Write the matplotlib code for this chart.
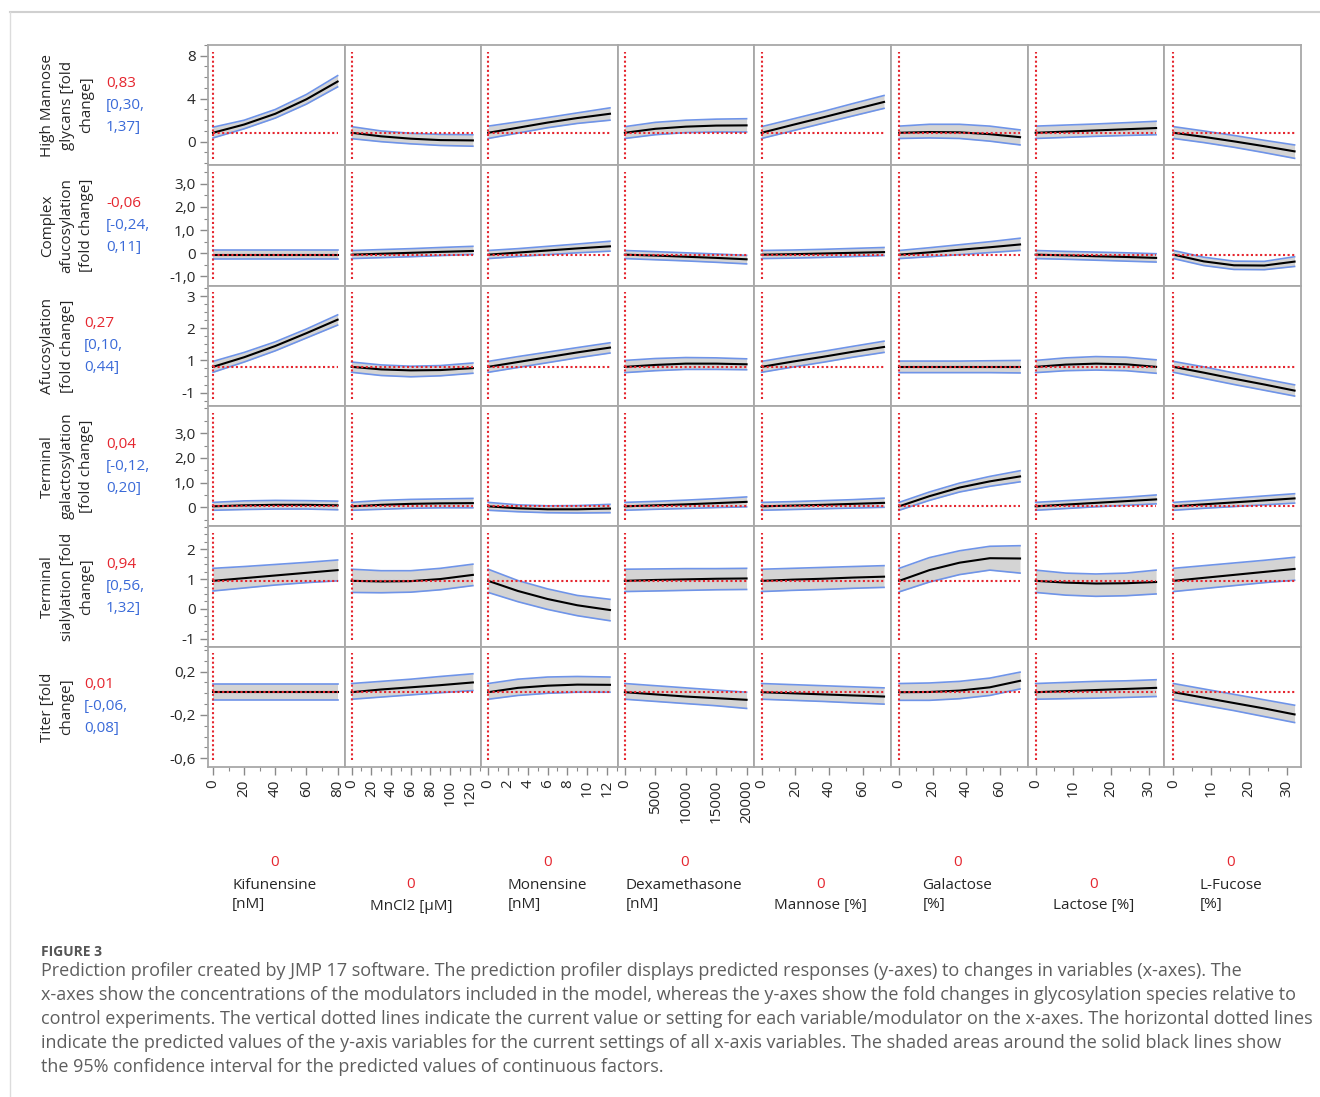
import matplotlib.pyplot as plt
from matplotlib.lines import Line2D
from matplotlib.ticker import MultipleLocator

plt.rcParams["font.family"] = ["Open Sans", "DejaVu Sans"]

# ---- factors (x-axes) ----
FACTORS = ["Kifunensine\n[nM]", "MnCl2 [µM]", "Monensine\n[nM]", "Dexamethasone\n[nM]",
           "Mannose [%]", "Galactose\n[%]", "Lactose [%]", "L-Fucose\n[%]"]
SETTINGS = [0, 0, 0, 0, 0, 0, 0, 0]

X_KIF = [0, 20, 40, 60, 80]
X_MNCL2 = [0, 30, 60, 90, 123]
X_MON = [0, 3, 6, 9, 12.3]
X_DEX = [0, 5000, 10000, 15000, 20000]
X_MAN = [0, 18, 36, 54, 72.4]
X_GAL = [0, 18, 36, 54, 72]
X_LAC = [0, 8, 16, 24, 32]
X_FUC = [0, 8, 16, 24, 32]
X_GRID = [X_KIF, X_MNCL2, X_MON, X_DEX, X_MAN, X_GAL, X_LAC, X_FUC]

XTICKS = [[0, 20, 40, 60, 80], [0, 20, 40, 60, 80, 100, 120], [0, 2, 4, 6, 8, 10, 12],
          [0, 5000, 10000, 15000, 20000], [0, 20, 40, 60], [0, 20, 40, 60],
          [0, 10, 20, 30], [0, 10, 20, 30]]

# ---- responses (y-axes) ----
RESPONSES = ["High Mannose\nglycans [fold\nchange]", "Complex\nafucosylation\n[fold change]",
             "Afucosylation\n[fold change]", "Terminal\ngalactosylation\n[fold change]",
             "Terminal\nsialylation [fold\nchange]", "Titer [fold\nchange]"]
PRED_TEXT = ["0,83", "-0,06", "0,27", "0,04", "0,94", "0,01"]
CI_TEXT = [["[0,30,", "1,37]"], ["[-0,24,", "0,11]"], ["[0,10,", "0,44]"],
           ["[-0,12,", "0,20]"], ["[0,56,", "1,32]"], ["[-0,06,", "0,08]"]]

YTICKS = [[0, 4, 8], [-1, 0, 1, 2, 3], [0, 1, 2, 3], [0, 1, 2, 3], [-1, 0, 1, 2], [-0.6, -0.2, 0.2]]
YTICK_LABELS = [["0", "4", "8"], ["-1,0", "0", "1,0", "2,0", "3,0"], ["-1", "1", "2", "3"],
                ["0", "1,0", "2,0", "3,0"], ["-1", "0", "1", "2"], ["-0,6", "-0,2", "0,2"]]

# High mannose glycans
HM_FIT = [[0.83, 1.6, 2.6, 3.95, 5.6], [0.83, 0.5, 0.28, 0.15, 0.12], [0.83, 1.3, 1.78, 2.2, 2.6],
          [0.83, 1.2, 1.4, 1.5, 1.52], [0.83, 1.55, 2.25, 2.97, 3.7], [0.83, 0.9, 0.87, 0.7, 0.42],
          [0.83, 0.94, 1.05, 1.16, 1.27], [0.83, 0.45, 0.03, -0.42, -0.9]]
HM_HI = [[1.35, 2.0, 3.0, 4.4, 6.15], [1.4, 1.0, 0.78, 0.68, 0.65], [1.45, 1.85, 2.25, 2.68, 3.15],
         [1.4, 1.8, 2.0, 2.1, 2.14], [1.4, 2.1, 2.8, 3.55, 4.3], [1.45, 1.62, 1.62, 1.45, 1.1],
         [1.45, 1.55, 1.65, 1.77, 1.9], [1.4, 1.0, 0.58, 0.13, -0.3]]
HM_LO = [[0.35, 1.2, 2.2, 3.5, 5.1], [0.28, 0.0, -0.2, -0.35, -0.42], [0.3, 0.8, 1.3, 1.7, 2.0],
         [0.3, 0.65, 0.85, 0.9, 0.9], [0.3, 1.0, 1.7, 2.4, 3.1], [0.3, 0.35, 0.3, 0.05, -0.3],
         [0.3, 0.4, 0.5, 0.58, 0.65], [0.3, -0.08, -0.52, -1.02, -1.55]]

# Complex afucosylation
CA_FIT = [[-0.06, -0.06, -0.06, -0.06, -0.06], [-0.06, -0.02, 0.02, 0.06, 0.1],
          [-0.06, 0.03, 0.12, 0.21, 0.3], [-0.06, -0.1, -0.15, -0.2, -0.26],
          [-0.06, -0.04, -0.01, 0.02, 0.05], [-0.06, 0.04, 0.15, 0.26, 0.38],
          [-0.06, -0.09, -0.13, -0.16, -0.2], [-0.06, -0.35, -0.52, -0.53, -0.36]]
CA_HI = [[0.12, 0.12, 0.12, 0.12, 0.12], [0.12, 0.16, 0.2, 0.25, 0.3], [0.12, 0.2, 0.3, 0.4, 0.52],
         [0.12, 0.07, 0.02, -0.03, -0.09], [0.12, 0.14, 0.17, 0.21, 0.25], [0.12, 0.24, 0.37, 0.5, 0.65],
         [0.12, 0.08, 0.05, 0.02, -0.02], [0.12, -0.17, -0.34, -0.35, -0.15]]
CA_LO = [[-0.23, -0.23, -0.23, -0.23, -0.23], [-0.23, -0.19, -0.15, -0.1, -0.05],
         [-0.23, -0.14, -0.06, 0.02, 0.09], [-0.23, -0.28, -0.33, -0.39, -0.46],
         [-0.23, -0.21, -0.18, -0.14, -0.1], [-0.23, -0.15, -0.06, 0.03, 0.12],
         [-0.23, -0.26, -0.3, -0.34, -0.38], [-0.23, -0.53, -0.7, -0.71, -0.57]]

# Afucosylation
AF_FIT = [[0.8, 1.1, 1.45, 1.85, 2.27], [0.8, 0.72, 0.69, 0.7, 0.76], [0.8, 0.95, 1.1, 1.25, 1.4],
          [0.8, 0.86, 0.9, 0.9, 0.88], [0.8, 0.96, 1.11, 1.27, 1.42], [0.8, 0.8, 0.8, 0.8, 0.8],
          [0.8, 0.87, 0.9, 0.88, 0.8], [0.8, 0.62, 0.43, 0.25, 0.06]]
AF_HI = [[0.97, 1.25, 1.58, 1.98, 2.42], [0.95, 0.86, 0.82, 0.84, 0.92], [0.97, 1.12, 1.26, 1.4, 1.55],
         [1.0, 1.06, 1.09, 1.08, 1.05], [0.97, 1.13, 1.28, 1.44, 1.6], [0.98, 0.98, 0.98, 0.99, 1.0],
         [1.0, 1.08, 1.12, 1.1, 1.02], [0.97, 0.8, 0.61, 0.42, 0.24]]
AF_LO = [[0.63, 0.95, 1.3, 1.7, 2.1], [0.63, 0.53, 0.49, 0.52, 0.6], [0.63, 0.78, 0.93, 1.08, 1.23],
         [0.62, 0.68, 0.72, 0.72, 0.71], [0.63, 0.79, 0.94, 1.1, 1.25], [0.62, 0.62, 0.62, 0.62, 0.61],
         [0.62, 0.68, 0.7, 0.68, 0.6], [0.63, 0.44, 0.25, 0.07, -0.11]]

# Terminal galactosylation
TG_FIT = [[0.04, 0.08, 0.1, 0.1, 0.08], [0.04, 0.1, 0.14, 0.16, 0.17], [0.04, -0.04, -0.08, -0.08, -0.05],
          [0.04, 0.08, 0.12, 0.17, 0.22], [0.04, 0.07, 0.1, 0.14, 0.18], [0.04, 0.45, 0.8, 1.05, 1.25],
          [0.04, 0.11, 0.18, 0.25, 0.32], [0.04, 0.12, 0.2, 0.28, 0.36]]
TG_HI = [[0.2, 0.26, 0.28, 0.27, 0.25], [0.2, 0.28, 0.32, 0.34, 0.36], [0.2, 0.1, 0.06, 0.07, 0.12],
         [0.2, 0.24, 0.29, 0.35, 0.42], [0.2, 0.23, 0.27, 0.31, 0.37], [0.2, 0.62, 0.98, 1.25, 1.48],
         [0.2, 0.27, 0.34, 0.41, 0.5], [0.2, 0.28, 0.37, 0.46, 0.55]]
TG_LO = [[-0.12, -0.09, -0.07, -0.07, -0.1], [-0.12, -0.08, -0.04, -0.02, -0.02],
         [-0.12, -0.18, -0.22, -0.23, -0.22], [-0.12, -0.08, -0.05, -0.01, 0.02],
         [-0.12, -0.09, -0.06, -0.03, 0.0], [-0.12, 0.28, 0.62, 0.85, 1.03],
         [-0.12, -0.05, 0.02, 0.08, 0.14], [-0.12, -0.04, 0.03, 0.1, 0.17]]

# Terminal sialylation
TS_FIT = [[0.94, 1.03, 1.12, 1.21, 1.3], [0.94, 0.92, 0.93, 1.0, 1.14], [0.94, 0.6, 0.33, 0.12, -0.04],
          [0.94, 0.97, 0.99, 1.01, 1.02], [0.94, 0.98, 1.01, 1.05, 1.08], [0.94, 1.3, 1.55, 1.7, 1.69],
          [0.94, 0.88, 0.85, 0.86, 0.9], [0.94, 1.04, 1.14, 1.24, 1.34]]
TS_HI = [[1.36, 1.42, 1.49, 1.56, 1.64], [1.33, 1.28, 1.28, 1.36, 1.5], [1.33, 0.95, 0.67, 0.45, 0.32],
         [1.33, 1.34, 1.35, 1.35, 1.36], [1.33, 1.36, 1.39, 1.42, 1.45], [1.36, 1.72, 1.95, 2.1, 2.12],
         [1.3, 1.2, 1.17, 1.2, 1.3], [1.36, 1.45, 1.54, 1.63, 1.73]]
TS_LO = [[0.6, 0.7, 0.8, 0.88, 0.94], [0.55, 0.54, 0.56, 0.64, 0.78], [0.55, 0.24, -0.02, -0.23, -0.4],
         [0.58, 0.6, 0.62, 0.64, 0.65], [0.58, 0.62, 0.65, 0.69, 0.72], [0.57, 0.9, 1.15, 1.3, 1.2],
         [0.55, 0.46, 0.42, 0.44, 0.5], [0.58, 0.68, 0.78, 0.88, 0.96]]

# Titer
TI_FIT = [[0.01, 0.01, 0.01, 0.01, 0.01], [0.01, 0.035, 0.055, 0.075, 0.1], [0.01, 0.05, 0.07, 0.08, 0.078],
          [0.01, -0.01, -0.03, -0.045, -0.06], [0.01, 0.0, -0.01, -0.02, -0.03],
          [0.01, 0.012, 0.025, 0.055, 0.115], [0.01, 0.02, 0.03, 0.04, 0.05],
          [0.01, -0.04, -0.09, -0.14, -0.195]]
TI_HI = [[0.09, 0.09, 0.09, 0.09, 0.09], [0.09, 0.11, 0.13, 0.155, 0.18], [0.09, 0.13, 0.15, 0.155, 0.15],
         [0.09, 0.07, 0.05, 0.03, 0.01], [0.09, 0.08, 0.07, 0.06, 0.05], [0.09, 0.095, 0.11, 0.14, 0.195],
         [0.09, 0.1, 0.11, 0.115, 0.125], [0.09, 0.04, -0.01, -0.06, -0.11]]
TI_LO = [[-0.06, -0.06, -0.06, -0.06, -0.06], [-0.055, -0.035, -0.015, 0.005, 0.025],
         [-0.055, -0.02, 0.0, 0.01, 0.01], [-0.055, -0.075, -0.095, -0.115, -0.14],
         [-0.055, -0.065, -0.075, -0.088, -0.1], [-0.065, -0.065, -0.05, -0.02, 0.04],
         [-0.055, -0.05, -0.045, -0.038, -0.03], [-0.06, -0.11, -0.16, -0.215, -0.27]]

FITS = [HM_FIT, CA_FIT, AF_FIT, TG_FIT, TS_FIT, TI_FIT]
HIS = [HM_HI, CA_HI, AF_HI, TG_HI, TS_HI, TI_HI]
LOS = [HM_LO, CA_LO, AF_LO, TG_LO, TS_LO, TI_LO]

CAPTION = [
    "Prediction profiler created by JMP 17 software. The prediction profiler displays predicted responses (y-axes) to changes in variables (x-axes). The",
    "x-axes show the concentrations of the modulators included in the model, whereas the y-axes show the fold changes in glycosylation species relative to",
    "control experiments. The vertical dotted lines indicate the current value or setting for each variable/modulator on the x-axes. The horizontal dotted lines",
    "indicate the predicted values of the y-axis variables for the current settings of all x-axis variables. The shaded areas around the solid black lines show",
    "the 95% confidence interval for the predicted values of continuous factors.",
]

# ---- layout / style ----
W, H = 1320, 1097
LEFT, RIGHT, TOP, BOTTOM = 208, 1301, 45, 767
XLIMS = [(-3.2, 84.5), (-7.1, 131.5), (-0.7, 13.1), (-1150, 21300),
         (-4.2, 76.6), (-4.8, 76.6), (-2.1, 34.2), (-2.4, 33.7)]
XMINOR = [10, 10, 1, 2500, 10, 10, 5, 5]
YLIMS = [(-2.2, 9.0), (-1.4, 3.8), (-0.42, 3.33), (-0.77, 4.1), (-1.27, 2.77), (-0.68, 0.43)]
YMINOR = [1, 0.5, 0.25, 0.5, 0.25, 0.1]

RED = "#e5262f"
BLUE = "#3a6ad8"
BAND = "#d4d4d4"
BAND_EDGE = "#6f94e8"
FRAME = "#a8a8a8"
TEXT = "#262626"
DOTS = (0, (1.0, 1.2))
FS = 11


def px(x, y):
    return x / W, 1 - y / H


fig, axes = plt.subplots(6, 8, figsize=(W / 100, H / 100), dpi=100)
fig.subplots_adjust(left=LEFT / W, right=RIGHT / W, top=1 - TOP / H, bottom=1 - BOTTOM / H,
                    wspace=0, hspace=0)

for r in range(6):
    for c in range(8):
        ax = axes[r, c]
        x = X_GRID[c]
        fit, hi, lo = FITS[r][c], HIS[r][c], LOS[r][c]
        ax.fill_between(x, lo, hi, color=BAND, lw=0, zorder=1)
        ax.plot(x, hi, color=BAND_EDGE, lw=1.2, zorder=2)
        ax.plot(x, lo, color=BAND_EDGE, lw=1.2, zorder=2)
        ax.plot(x, fit, color="black", lw=1.5, zorder=3)
        ax.plot([x[0], x[-1]], [fit[0], fit[0]], color=RED, lw=1.5, ls=DOTS, zorder=4)
        ax.axvline(SETTINGS[c], ymin=0.055, ymax=0.945, color=RED, lw=1.5, ls=DOTS, zorder=4)
        ax.set_xlim(XLIMS[c])
        ax.set_ylim(YLIMS[r])
        for sp in ax.spines.values():
            sp.set_color(FRAME)
            sp.set_linewidth(1.3)
        ax.tick_params(which="both", color="#8a8a8a", labelsize=FS, labelcolor=TEXT)
        if c == 0:
            ax.set_yticks(YTICKS[r], YTICK_LABELS[r])
            ax.yaxis.set_minor_locator(MultipleLocator(YMINOR[r]))
            ax.tick_params(axis="y", which="major", length=6, width=1, pad=3)
            ax.tick_params(axis="y", which="minor", length=3, width=0.8)
        else:
            ax.set_yticks([])
            ax.tick_params(axis="y", which="both", left=False, labelleft=False)
        if r == 5:
            ax.set_xticks(XTICKS[c], [str(t) for t in XTICKS[c]], rotation=90)
            ax.xaxis.set_minor_locator(MultipleLocator(XMINOR[c]))
            ax.tick_params(axis="x", which="major", length=6, width=1, pad=3)
            ax.tick_params(axis="x", which="minor", length=3, width=0.8)
        else:
            ax.set_xticks([])
            ax.tick_params(axis="x", which="both", bottom=False, labelbottom=False)

# response labels with predicted value and CI
row_h = (BOTTOM - TOP) / 6
for r, label in enumerate(RESPONSES):
    yc = TOP + row_h * (r + 0.5)
    fig.text(*px(40, yc), label, rotation=90, ha="left", va="center", multialignment="center",
             fontsize=FS, color=TEXT, linespacing=1.42)
    nlines = label.count("\n") + 1
    xv = 40 + 22 * nlines
    fig.text(*px(xv, yc - 22), PRED_TEXT[r], ha="left", va="center", fontsize=FS, color=RED)
    for k, line in enumerate(CI_TEXT[r]):
        fig.text(*px(xv, yc + 22 * k), line, ha="left", va="center", fontsize=FS, color=BLUE)

# factor labels at the bottom
col_w = (RIGHT - LEFT) / 8
for c, name in enumerate(FACTORS):
    xc = LEFT + col_w * (c + 0.5)
    nlines = name.count("\n") + 1
    fig.text(*px(xc - 2, 906 - 11 * (nlines - 1)), name, ha="center", va="center",
             multialignment="left", fontsize=FS, color=TEXT, linespacing=1.42)
    fig.text(*px(xc - 2, 906 - 22 * nlines), str(SETTINGS[c]), ha="center", va="center",
             fontsize=FS, color=RED)

# caption
fig.text(*px(41, 952), "FIGURE 3", ha="left", va="center", fontsize=10, color="#555555",
         fontweight="bold")
for k, line in enumerate(CAPTION):
    fig.text(*px(41, 971 + 24 * k), line, ha="left", va="center", fontsize=13.0,
             color="#5e5e5e")

# page frame
fig.add_artist(Line2D([10 / W, 1], [1 - 12 / H] * 2, color="#d0d0d0", lw=1.5))
fig.add_artist(Line2D([10 / W] * 2, [0, 1 - 12 / H], color="#dcdcdc", lw=1))

fig.savefig("out.png", dpi=100)
